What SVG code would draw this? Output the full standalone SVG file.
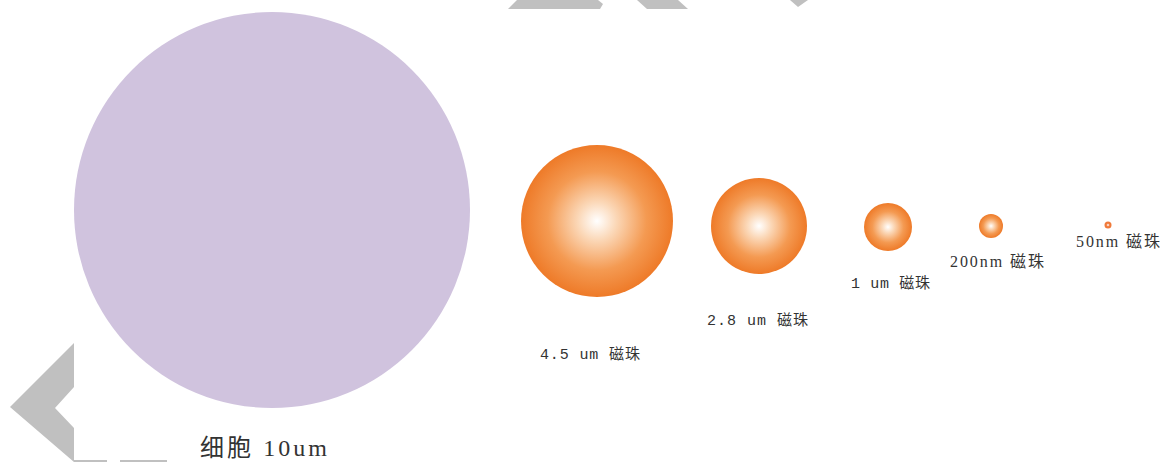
<svg xmlns="http://www.w3.org/2000/svg" width="1166" height="462" viewBox="0 0 1166 462">
<style>
.lbl{font-family:"Liberation Mono","Noto Sans CJK SC",monospace;font-size:15px;fill:#333;}
.lbl2{font-family:"Liberation Serif","Noto Sans CJK SC",serif;font-size:16px;fill:#333;}
.deco{fill:#c0c0c0;}
.bead{fill:url(#beadGrad);}
</style>
<defs>
<radialGradient id="beadGrad" cx="0.5" cy="0.5" r="0.5">
<stop offset="0" stop-color="#ffffff"/>
<stop offset="0.25" stop-color="#fbd8b8"/>
<stop offset="0.65" stop-color="#f49a52"/>
<stop offset="1" stop-color="#ee7a28"/>
</radialGradient>
</defs>
<rect width="1166" height="462" fill="#ffffff"/>
<g id="decor">
<polygon class="deco" points="517,0 598,0 603,4 600,9 508,9"/>
<polygon class="deco" points="637,0 678,0 688,9 647,9"/>
<polygon class="deco" points="790,0 808,0 798,7"/>
<polygon class="deco" points="74,343 74,387 55,408 74,428 74,462 10,407"/>
<rect class="deco" x="74" y="460" width="33" height="2"/>
<rect class="deco" x="120" y="460" width="47" height="2"/>
</g>
<g id="cell">
<circle cx="272" cy="210" r="198" fill="#d0c3de"/>
<text x="200" y="456" font-family="Liberation Serif,'Noto Sans CJK SC',serif" font-size="24" fill="#333" textLength="127" lengthAdjust="spacing">细胞 10um</text>
</g>
<g id="bead45">
<circle class="bead" cx="597" cy="221" r="76"/>
<text class="lbl" x="540" y="359" textLength="100" lengthAdjust="spacing">4.5 um 磁珠</text>
</g>
<g id="bead28">
<circle class="bead" cx="759" cy="226" r="48"/>
<text class="lbl" x="707" y="325" textLength="101" lengthAdjust="spacing">2.8 um 磁珠</text>
</g>
<g id="bead1">
<circle class="bead" cx="888" cy="227" r="24"/>
<text class="lbl" x="851" y="288" textLength="79" lengthAdjust="spacing">1 um 磁珠</text>
</g>
<g id="bead200">
<circle class="bead" cx="991" cy="226" r="12"/>
<text class="lbl2" x="950" y="267" textLength="94" lengthAdjust="spacing">200nm 磁珠</text>
</g>
<g id="bead50">
<circle cx="1108" cy="225" r="3.5" fill="#f07a3a"/>
<circle cx="1108" cy="225" r="1.3" fill="#fbd2c0"/>
<text class="lbl2" x="1076" y="247" textLength="84" lengthAdjust="spacing">50nm 磁珠</text>
</g>
<g id="connectors"></g>
</svg>
